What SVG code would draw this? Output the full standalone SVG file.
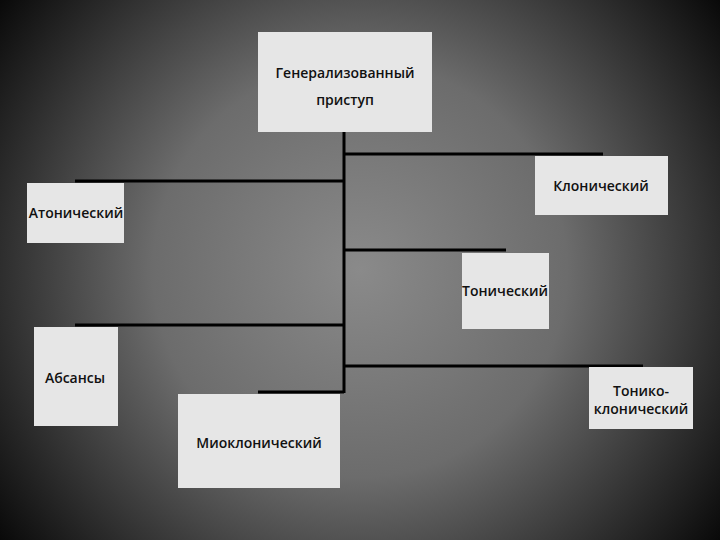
<svg xmlns="http://www.w3.org/2000/svg" width="720" height="540" viewBox="0 0 720 540">
<defs>
<radialGradient id="bg" cx="360" cy="270" r="460" gradientUnits="userSpaceOnUse">
<stop offset="0" stop-color="#8a8a8a"/>
<stop offset="0.45" stop-color="#6c6c6c"/>
<stop offset="0.8" stop-color="#2a2a2a"/>
<stop offset="1" stop-color="#050505"/>
</radialGradient>
<style>
.box{fill:#e6e6e6;}
.lbl{font-family:"Open Sans","Liberation Sans",sans-serif;font-size:14px;font-weight:600;fill:#111;text-anchor:middle;}
.ln{stroke:#000;stroke-width:3;fill:none;}
</style>
</defs>
<rect width="720" height="540" fill="url(#bg)"/>
<g id="connectors">
<line class="ln" x1="344" y1="132" x2="344" y2="393"/>
<line class="ln" x1="344" y1="154" x2="603" y2="154"/>
<line class="ln" x1="75" y1="181" x2="344" y2="181"/>
<line class="ln" x1="344" y1="250" x2="506" y2="250"/>
<line class="ln" x1="75" y1="325" x2="344" y2="325"/>
<line class="ln" x1="344" y1="366" x2="643" y2="366"/>
<line class="ln" x1="258" y1="392" x2="344" y2="392"/>
</g>
<g id="root">
<rect class="box" x="258" y="32" width="174" height="100"/>
<text class="lbl" x="345" y="78">Генерализованный</text>
<text class="lbl" x="345" y="105">приступ</text>
</g>
<g id="clonic">
<rect class="box" x="535" y="156" width="133" height="59"/>
<text class="lbl" x="601" y="191">Клонический</text>
</g>
<g id="atonic">
<rect class="box" x="27" y="183" width="97" height="60"/>
<text class="lbl" x="76" y="218">Атонический</text>
</g>
<g id="tonic">
<rect class="box" x="462" y="253" width="87" height="76"/>
<text class="lbl" x="505" y="296">Тонический</text>
</g>
<g id="absence">
<rect class="box" x="34" y="327" width="84" height="99"/>
<text class="lbl" x="75" y="383">Абсансы</text>
</g>
<g id="tonicoclonic">
<rect class="box" x="589" y="367" width="104" height="62"/>
<text class="lbl" x="641" y="396">Тонико-</text>
<text class="lbl" x="641" y="414">клонический</text>
</g>
<g id="myoclonic">
<rect class="box" x="178" y="394" width="162" height="94"/>
<text class="lbl" x="259" y="448">Миоклонический</text>
</g>
</svg>
